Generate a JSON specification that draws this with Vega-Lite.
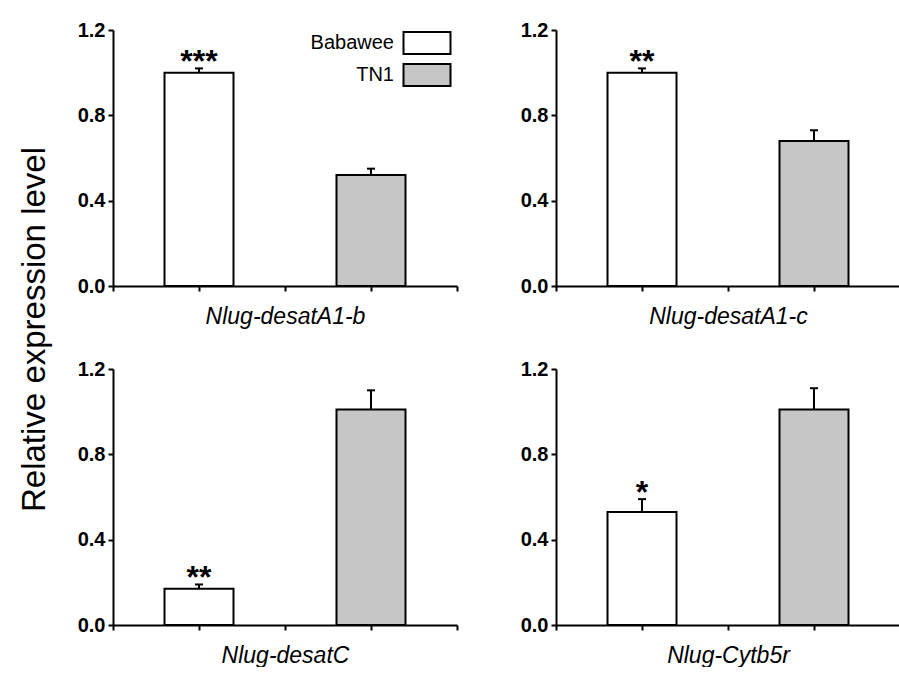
{
  "$schema": "https://vega.github.io/schema/vega-lite/v6.json",
  "background": "white",
  "padding": {"left": 19, "top": 20, "right": 0, "bottom": 0},
  "title": {"text": "Relative expression level", "orient": "left", "anchor": "middle", "fontSize": 33, "fontWeight": "normal", "font": "Liberation Sans", "color": "black", "offset": 25, "dx": 14},
  "data": {"values": [
    {"gene": "Nlug-desatA1-b", "group": "Babawee", "value": 1.0, "upper": 1.02, "sig": "***"},
    {"gene": "Nlug-desatA1-b", "group": "TN1", "value": 0.52, "upper": 0.55, "sig": ""},
    {"gene": "Nlug-desatA1-c", "group": "Babawee", "value": 1.0, "upper": 1.02, "sig": "**"},
    {"gene": "Nlug-desatA1-c", "group": "TN1", "value": 0.68, "upper": 0.73, "sig": ""},
    {"gene": "Nlug-desatC", "group": "Babawee", "value": 0.17, "upper": 0.19, "sig": "**"},
    {"gene": "Nlug-desatC", "group": "TN1", "value": 1.01, "upper": 1.1, "sig": ""},
    {"gene": "Nlug-Cytb5r", "group": "Babawee", "value": 0.53, "upper": 0.59, "sig": "*"},
    {"gene": "Nlug-Cytb5r", "group": "TN1", "value": 1.01, "upper": 1.11, "sig": ""}
  ]},
  "columns": 2,
  "spacing": {"row": 83, "column": 99},
  "bounds": "flush",
  "resolve": {"scale": {"fill": "independent", "x": "independent", "y": "independent"}, "legend": {"fill": "independent"}},
  "concat": [
    {
      "width": 344, "height": 256,
      "transform": [{"filter": {"field": "gene", "equal": "Nlug-desatA1-b"}}],
      "encoding": {"x": {"field": "group", "type": "nominal", "scale": {"type": "point", "domain": ["a", "Babawee", "b", "TN1", "c"], "padding": 0}, "axis": {"labels": false, "title": "Nlug-desatA1-b"}}},
      "layer": [
        {"mark": {"type": "bar", "width": 69, "stroke": "black", "strokeWidth": 2},
         "encoding": {
           "y": {"field": "value", "type": "quantitative", "scale": {"domain": [0, 1.2], "nice": false}, "axis": {"values": [0, 0.4, 0.8, 1.2], "format": ".1f"}},
           "fill": {"field": "group", "type": "nominal", "scale": {"domain": ["Babawee", "TN1"], "range": ["white", "#c6c6c6"]},
             "legend": {"orient": "none", "legendX": 301, "legendY": 0, "title": null, "symbolType": "M-2,-0.94H2V0.94H-2Z", "symbolSize": 552, "symbolStrokeColor": "black", "symbolStrokeWidth": 2, "symbolOpacity": 1, "labelFontSize": 20, "labelFont": "Liberation Sans", "labelColor": "black", "labelAlign": "right", "labelOffset": -46, "rowPadding": 0}}
         }},
        {"mark": {"type": "rule", "stroke": "black", "strokeWidth": 2},
         "encoding": {"y": {"field": "value", "type": "quantitative"}, "y2": {"field": "upper"}}},
        {"mark": {"type": "point", "shape": "stroke", "size": 64, "stroke": "black", "strokeWidth": 2, "opacity": 1, "filled": false},
         "encoding": {"y": {"field": "upper", "type": "quantitative"}}},
        {"mark": {"type": "text", "fontSize": 32, "fontWeight": "bold", "dy": 4, "baseline": "alphabetic", "color": "black"},
         "encoding": {"y": {"field": "upper", "type": "quantitative"}, "text": {"field": "sig"}}}
      ]
    },
    {
      "width": 344, "height": 256,
      "transform": [{"filter": {"field": "gene", "equal": "Nlug-desatA1-c"}}],
      "encoding": {"x": {"field": "group", "type": "nominal", "scale": {"type": "point", "domain": ["a", "Babawee", "b", "TN1", "c"], "padding": 0}, "axis": {"labels": false, "title": "Nlug-desatA1-c"}}},
      "layer": [
        {"mark": {"type": "bar", "width": 69, "stroke": "black", "strokeWidth": 2},
         "encoding": {
           "y": {"field": "value", "type": "quantitative", "scale": {"domain": [0, 1.2], "nice": false}, "axis": {"values": [0, 0.4, 0.8, 1.2], "format": ".1f"}},
           "fill": {"field": "group", "type": "nominal", "scale": {"domain": ["Babawee", "TN1"], "range": ["white", "#c6c6c6"]}, "legend": null}
         }},
        {"mark": {"type": "rule", "stroke": "black", "strokeWidth": 2},
         "encoding": {"y": {"field": "value", "type": "quantitative"}, "y2": {"field": "upper"}}},
        {"mark": {"type": "point", "shape": "stroke", "size": 64, "stroke": "black", "strokeWidth": 2, "opacity": 1, "filled": false},
         "encoding": {"y": {"field": "upper", "type": "quantitative"}}},
        {"mark": {"type": "text", "fontSize": 32, "fontWeight": "bold", "dy": 4, "baseline": "alphabetic", "color": "black"},
         "encoding": {"y": {"field": "upper", "type": "quantitative"}, "text": {"field": "sig"}}}
      ]
    },
    {
      "width": 344, "height": 256,
      "transform": [{"filter": {"field": "gene", "equal": "Nlug-desatC"}}],
      "encoding": {"x": {"field": "group", "type": "nominal", "scale": {"type": "point", "domain": ["a", "Babawee", "b", "TN1", "c"], "padding": 0}, "axis": {"labels": false, "title": "Nlug-desatC"}}},
      "layer": [
        {"mark": {"type": "bar", "width": 69, "stroke": "black", "strokeWidth": 2},
         "encoding": {
           "y": {"field": "value", "type": "quantitative", "scale": {"domain": [0, 1.2], "nice": false}, "axis": {"values": [0, 0.4, 0.8, 1.2], "format": ".1f"}},
           "fill": {"field": "group", "type": "nominal", "scale": {"domain": ["Babawee", "TN1"], "range": ["white", "#c6c6c6"]}, "legend": null}
         }},
        {"mark": {"type": "rule", "stroke": "black", "strokeWidth": 2},
         "encoding": {"y": {"field": "value", "type": "quantitative"}, "y2": {"field": "upper"}}},
        {"mark": {"type": "point", "shape": "stroke", "size": 64, "stroke": "black", "strokeWidth": 2, "opacity": 1, "filled": false},
         "encoding": {"y": {"field": "upper", "type": "quantitative"}}},
        {"mark": {"type": "text", "fontSize": 32, "fontWeight": "bold", "dy": 4, "baseline": "alphabetic", "color": "black"},
         "encoding": {"y": {"field": "upper", "type": "quantitative"}, "text": {"field": "sig"}}}
      ]
    },
    {
      "width": 344, "height": 256,
      "transform": [{"filter": {"field": "gene", "equal": "Nlug-Cytb5r"}}],
      "encoding": {"x": {"field": "group", "type": "nominal", "scale": {"type": "point", "domain": ["a", "Babawee", "b", "TN1", "c"], "padding": 0}, "axis": {"labels": false, "title": "Nlug-Cytb5r"}}},
      "layer": [
        {"mark": {"type": "bar", "width": 69, "stroke": "black", "strokeWidth": 2},
         "encoding": {
           "y": {"field": "value", "type": "quantitative", "scale": {"domain": [0, 1.2], "nice": false}, "axis": {"values": [0, 0.4, 0.8, 1.2], "format": ".1f"}},
           "fill": {"field": "group", "type": "nominal", "scale": {"domain": ["Babawee", "TN1"], "range": ["white", "#c6c6c6"]}, "legend": null}
         }},
        {"mark": {"type": "rule", "stroke": "black", "strokeWidth": 2},
         "encoding": {"y": {"field": "value", "type": "quantitative"}, "y2": {"field": "upper"}}},
        {"mark": {"type": "point", "shape": "stroke", "size": 64, "stroke": "black", "strokeWidth": 2, "opacity": 1, "filled": false},
         "encoding": {"y": {"field": "upper", "type": "quantitative"}}},
        {"mark": {"type": "text", "fontSize": 32, "fontWeight": "bold", "dy": 4, "baseline": "alphabetic", "color": "black"},
         "encoding": {"y": {"field": "upper", "type": "quantitative"}, "text": {"field": "sig"}}}
      ]
    }
  ],
  "config": {
    "view": {"stroke": null},
    "font": "Liberation Sans",
    "axis": {"domainColor": "black", "domainWidth": 2, "tickColor": "black", "tickWidth": 2, "tickSize": 5, "grid": false, "labelFont": "Liberation Sans", "labelFontSize": 20, "labelFontWeight": "bold", "labelColor": "black", "labelPadding": 3, "labelFlush": false, "titleFont": "Liberation Sans", "titleFontSize": 23, "titleFontStyle": "italic", "titleFontWeight": "normal", "titleColor": "black", "titlePadding": 13},
    "axisY": {"title": null}
  }
}
